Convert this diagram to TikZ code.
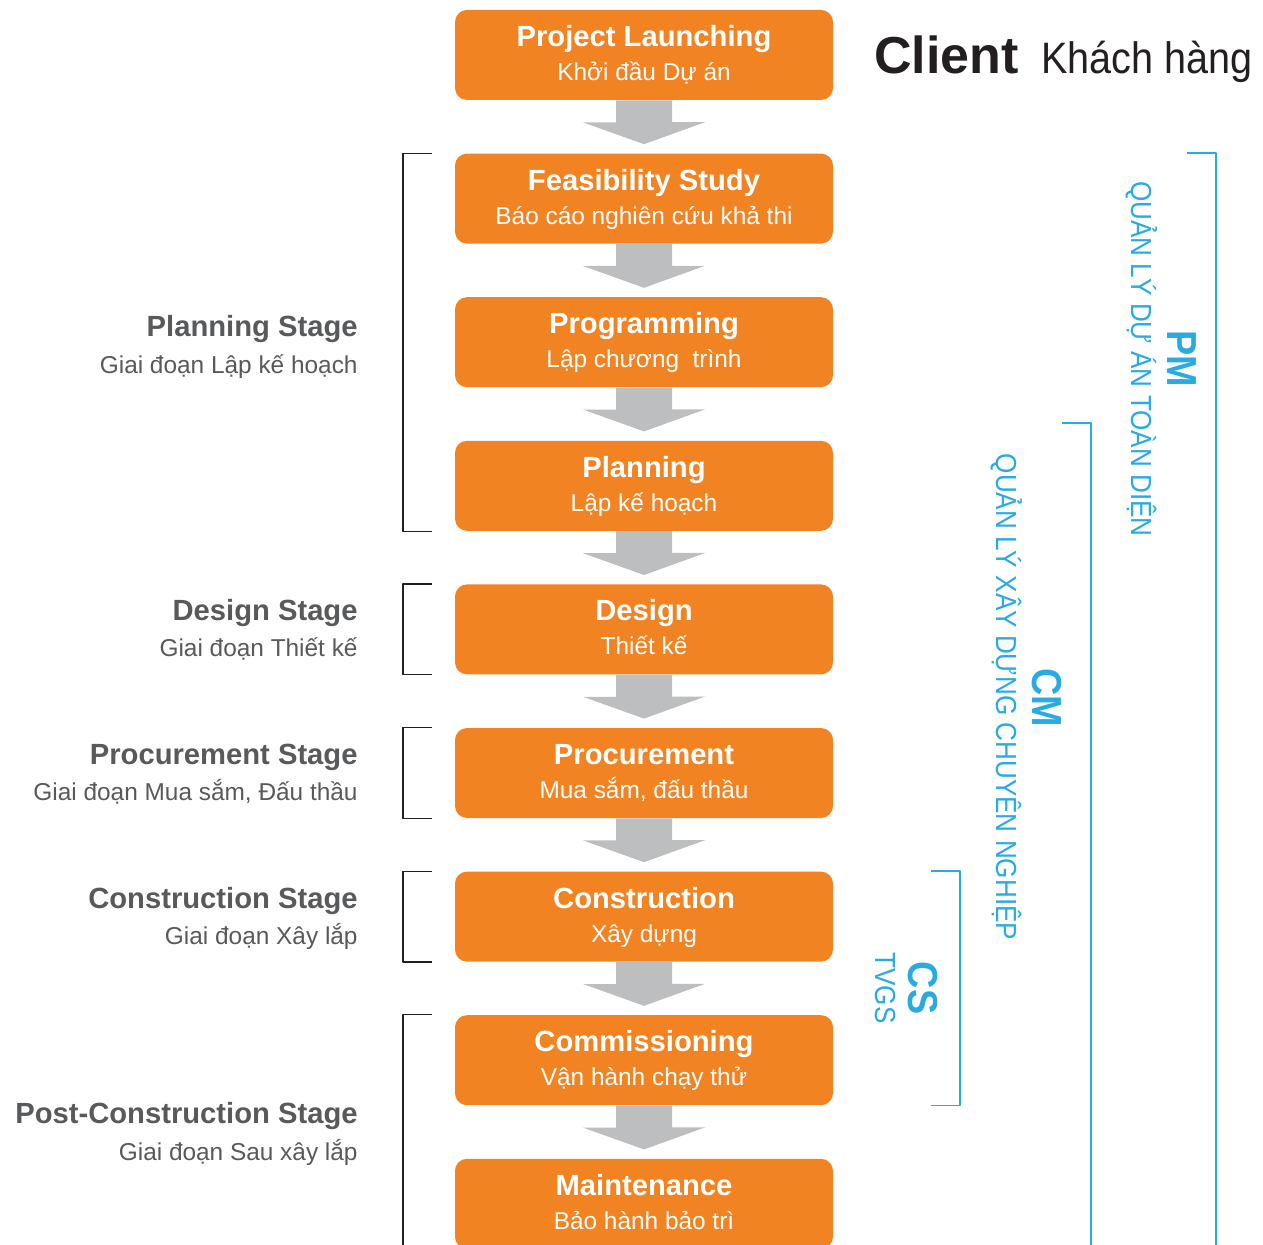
\documentclass[tikz,border=0pt]{standalone}
\usepackage{fontspec}
\setmainfont{Liberation Sans}
\usetikzlibrary{calc}
\definecolor{boxorange}{HTML}{F28322}
\definecolor{arrowgray}{HTML}{BCBEC0}
\definecolor{labelgray}{HTML}{58595B}
\definecolor{roleblue}{HTML}{29AAE1}
\definecolor{inkblack}{HTML}{231F20}
\begin{document}
\begin{tikzpicture}[x=0.5pt,y=-0.5pt,line join=round,
  stagebox/.style={fill=boxorange,rounded corners=6pt,minimum width=189pt,minimum height=45pt,inner sep=0pt},
  boxtitle/.style={text=white,anchor=base,inner sep=0pt,font=\bfseries\fontsize{14.6}{17}\selectfont},
  boxsub/.style={text=white,anchor=base,inner sep=0pt,font=\fontsize{12.2}{14}\selectfont},
  stagetitle/.style={text=labelgray,anchor=base east,inner sep=0pt,font=\bfseries\fontsize{14.6}{17}\selectfont},
  stagesub/.style={text=labelgray,anchor=base east,inner sep=0pt,font=\fontsize{12.2}{14}\selectfont},
  flowarrow/.style={fill=arrowgray},
  stagebracket/.style={draw=inkblack,line width=0.6pt},
  rolebracket/.style={draw=roleblue,line width=0.75pt},
  roletitle/.style={text=roleblue,rotate=-90,xscale=0.9,anchor=base,inner sep=0pt,font=\bfseries\fontsize{21}{24}\selectfont},
  rolesub/.style={text=roleblue,rotate=-90,xscale=0.9,anchor=base,inner sep=0pt,font=\fontsize{14.5}{17}\selectfont}]
\useasboundingbox (0,0) rectangle (1263,1245);
\clip (0,0) rectangle (1263,1245);
\foreach \i/\t/\s in {0/Project Launching/Khởi đầu Dự án,
  1/Feasibility Study/Báo cáo nghiên cứu khả thi,
  2/Programming/Lập chương\ \ trình,
  3/Planning/Lập kế hoạch,
  4/Design/Thiết kế,
  5/Procurement/{Mua sắm, đấu thầu},
  6/Construction/Xây dựng,
  7/Commissioning/Vận hành chạy thử,
  8/Maintenance/Bảo hành bảo trì}{
  \node[stagebox] (box\i) at (644,{55+143.6*\i}) {};
  \node[boxtitle] (title\i) at ($(box\i.center)+(0,-8.5)$) {\t};
  \node[boxsub] (sub\i) at ($(box\i.center)+(0,25.5)$) {\s};
}
\foreach \i [count=\j] in {0,...,7}{
  \fill[flowarrow] ($(box\i.south)+(-28,0)$) -- ++(0,22) -- ++(-33,0) -- ($(box\j.north)+(0,-9)$) -- ++(61,-22) -- ++(-33,0) -- ($(box\i.south)+(28,0)$) -- cycle;
}
\foreach \a/\b in {1/3,4/4,5/5,6/6}{
  \draw[stagebracket] (432,0 |- box\a.north) -| (403,0 |- box\b.south) -- (432,0 |- box\b.south);
}
\draw[stagebracket] (432,0 |- box7.north) -| (403,1250);
\foreach \y/\t/\s [count=\k] in {337/Planning Stage/Giai đoạn Lập kế hoạch,
  620.4/Design Stage/Giai đoạn Thiết kế,
  764/Procurement Stage/{Giai đoạn Mua sắm, Đấu thầu},
  908/Construction Stage/Giai đoạn Xây lắp,
  1123.5/Post-Construction Stage/Giai đoạn Sau xây lắp}{
  \node[stagetitle] (stage\k) at (358,\y) {\t};
  \node[stagesub] (stagevn\k) at (358,\y+36.5) {\s};
}
\node[anchor=base west,inner sep=0pt,text=inkblack,font=\bfseries\fontsize{26}{30}\selectfont] (client) at (874,74) {Client};
\node[anchor=base west,inner sep=0pt,text=inkblack,xscale=0.9,font=\fontsize{22}{26}\selectfont] (clientvn) at (1041,74) {Khách hàng};
\draw[rolebracket] (1187,0 |- box1.north) -- (1216,0 |- box1.north) -- (1216,1250);
\draw[rolebracket] (1062,423) -- (1091,423) -- (1091,1250);
\draw[rolebracket] (931,0 |- box6.north) -| (960,0 |- box7.south) -- (931,0 |- box7.south);
\node[roletitle] (pm) at (1167,359) {PM};
\node[rolesub] (pmvn) at (1131,359) {QUẢN LÝ DỰ ÁN TOÀN DIỆN};
\node[roletitle] (cm) at (1032,698) {CM};
\node[rolesub] (cmvn) at (996,697) {QUẢN LÝ XÂY DỰNG CHUYÊN NGHIỆP};
\node[roletitle] (cs) at (908,988) {CS};
\node[rolesub] (csvn) at (875,988) {TVGS};
\end{tikzpicture}
\end{document}
